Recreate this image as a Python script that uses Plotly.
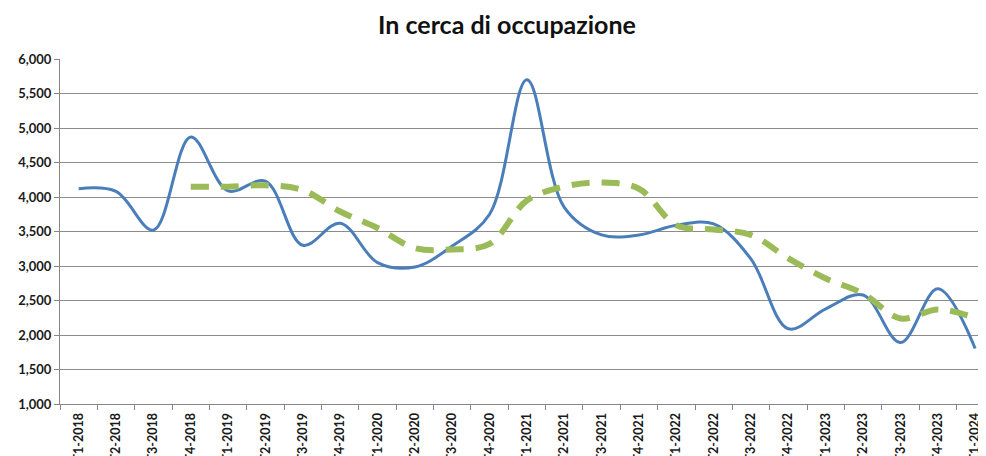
import plotly.graph_objects as go

trimestri = ["T1-2018", "T2-2018", "T3-2018", "T4-2018",
             "T1-2019", "T2-2019", "T3-2019", "T4-2019",
             "T1-2020", "T2-2020", "T3-2020", "T4-2020",
             "T1-2021", "T2-2021", "T3-2021", "T4-2021",
             "T1-2022", "T2-2022", "T3-2022", "T4-2022",
             "T1-2023", "T2-2023", "T3-2023", "T4-2023",
             "T1-2024"]

# in cerca di occupazione (migliaia)
valori = [4120, 4080, 3520, 4870, 4090, 4230, 3300, 3620,
          3050, 2985, 3290, 3750, 5700, 3850, 3450, 3450,
          3590, 3610, 3100, 2090, 2380, 2580, 1890, 2670,
          1805]

# media mobile a 4 periodi, parte dal T4-2018
media_mobile = [4150, 4150, 4170, 4100, 3790, 3550, 3260, 3240,
                3320, 3950, 4150, 4210, 4120, 3590, 3530, 3450,
                3110, 2820, 2600, 2240, 2370, 2250]

fig = go.Figure()

fig.add_trace(go.Scatter(
    x=trimestri, y=valori, mode="lines",
    line=dict(color="#4A7EBB", width=3, shape="spline", smoothing=1.0),
    showlegend=False))

fig.add_trace(go.Scatter(
    x=trimestri[3:], y=media_mobile, mode="lines",
    line=dict(color="#9BBB59", width=6, shape="spline", smoothing=1.0,
              dash="18px,12px"),
    showlegend=False))

# la pagina html ha 8px di margine del body: figura un po' piu piccola
fig.update_layout(
    width=978, height=448,
    margin=dict(l=52, r=0, t=51, b=52),
    paper_bgcolor="white", plot_bgcolor="white",
    font=dict(family="Lato", color="#1a1a1a"),
    title=dict(text="<b>In cerca di occupazione</b>",
               font=dict(family="Lato", size=25, color="#111"),
               x=499 / 978, xanchor="center", y=1 - 17 / 448, yanchor="middle",
               xref="container", yref="container"),
)

fig.update_xaxes(
    type="category", range=[-0.5, 24.29],
    tickangle=-90, tickson="boundaries",
    ticks="outside", ticklen=5, tickcolor="#868686",
    ticklabelstandoff=3,
    showline=True, linecolor="#868686", linewidth=1,
    showgrid=False, automargin=False,
    tickfont=dict(family="Lato", size=12.5, color="#1a1a1a", weight="bold"),
)

fig.update_yaxes(
    range=[1000, 6000], dtick=500, tickformat=",",
    ticks="outside", ticklen=5, tickcolor="#868686",
    showline=True, linecolor="#868686", linewidth=1,
    showgrid=True, gridcolor="#8c8c8c", gridwidth=1,
    zeroline=False, automargin=False,
    tickfont=dict(family="Lato", size=13, color="#1a1a1a", weight="bold"),
)

fig.write_html("out.html")
